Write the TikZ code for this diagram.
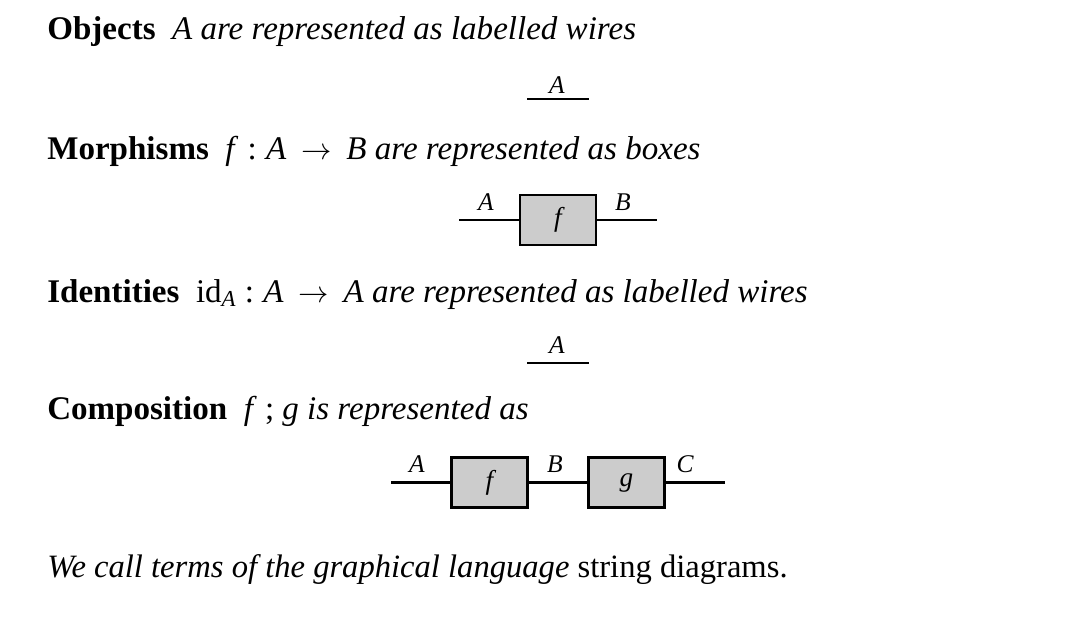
\documentclass[tikz,border=0pt]{standalone}
\usepackage{fontspec}
\setmainfont{Liberation Serif}
\usetikzlibrary{positioning,calc}

\begin{document}
\begin{tikzpicture}[x=1cm,y=-1cm,
	wire/.style={line width=1.2pt},
	morph/.style={draw,line width=1.3pt,fill=gray!40,minimum width=1.52cm,minimum height=1cm,inner sep=0pt,font=\fontsize{15.5}{17}\selectfont\itshape},
	lbl/.style={anchor=base,inner sep=0pt,font=\fontsize{14.5}{16}\selectfont\itshape},
	txt/.style={anchor=base west,inner sep=0pt,font=\fontsize{18.8}{22}\selectfont}]
	\useasboundingbox (0,0) rectangle (21.6,12.32);
	
	% objects
	\node[txt] (objects) at (0.94,0.78) {\textbf{Objects}\enspace\textit{A are represented as labelled wires}};
	\coordinate (objA-in) at (10.54,1.98);
	\coordinate (objA-out) at (11.78,1.98);
	\draw[wire] (objA-in) -- (objA-out);
	\node[lbl] (objA) at (11.14,1.86) {A};
	
	% morphisms
	\node[txt] (morphisms) at (0.94,3.18) {\textbf{Morphisms}\enspace\textit{f}\hspace{0.28em}:\hspace{0.28em}\textit{A}\hspace{0.45em}$\to$\hspace{0.45em}\textit{B are represented as boxes}};
	\node[morph] (f) at (11.16,4.4) {f};
	\coordinate (f-in) at (9.18,4.4);
	\coordinate (f-out) at (13.14,4.4);
	\draw[wire] (f-in) -- (f.west);
	\draw[wire] (f.east) -- (f-out);
	\node[lbl] (fA) at (9.72,4.2) {A};
	\node[lbl] (fB) at (12.46,4.2) {B};
	
	% identities
	\node[txt] (identities) at (0.94,6.04) {\textbf{Identities}\enspace id\raisebox{-0.32ex}{\fontsize{13}{14}\selectfont\itshape A}\hspace{0.28em}:\hspace{0.28em}\textit{A}\hspace{0.45em}$\to$\hspace{0.45em}\textit{A are represented as labelled wires}};
	\coordinate (idA-in) at (10.54,7.26);
	\coordinate (idA-out) at (11.78,7.26);
	\draw[wire] (idA-in) -- (idA-out);
	\node[lbl] (idA) at (11.14,7.06) {A};
	
	% composition
	\node[txt] (composition) at (0.94,8.38) {\textbf{Composition}\enspace\textit{f}\hspace{0.25em};\hspace{0.25em}\textit{g is represented as}};
	\node[morph] (cf) at (9.79,9.65) {f};
	\node[morph] (cg) at (12.53,9.65) {g};
	\coordinate (c-in) at (7.82,9.65);
	\coordinate (c-out) at (14.5,9.65);
	\draw[wire] (c-in) -- (cf.west);
	\draw[wire] (cf.east) -- (cg.west);
	\draw[wire] (cg.east) -- (c-out);
	\node[lbl] (cA) at (8.34,9.44) {A};
	\node[lbl] (cB) at (11.1,9.44) {B};
	\node[lbl] (cC) at (13.7,9.44) {C};
	
	% closing line
	\node[txt,font=\fontsize{18.55}{22}\selectfont] (closing) at (0.94,11.54) {\textit{We call terms of the graphical language} string diagrams.};
\end{tikzpicture}
\end{document}
